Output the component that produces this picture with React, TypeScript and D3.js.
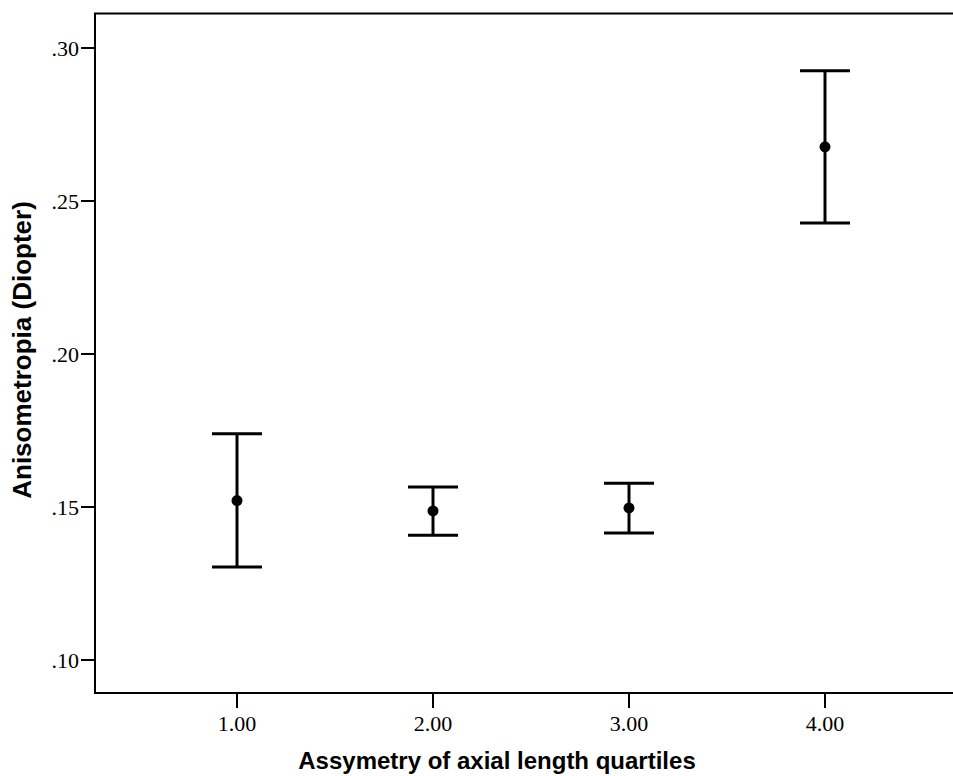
import React, { useEffect, useRef } from "react";
import * as d3 from "d3";

const categories = [1, 2, 3, 4];
const means = [0.1521, 0.1487, 0.1497, 0.2677];
const lowers = [0.1304, 0.1408, 0.1415, 0.2428];
const uppers = [0.1739, 0.1565, 0.1578, 0.2926];
const yTicks = [0.1, 0.15, 0.2, 0.25, 0.3];

const App = () => {
  const svgRef = useRef<SVGSVGElement | null>(null);

  useEffect(() => {
    if (!svgRef.current) return;
    const svg = d3.select(svgRef.current);
    svg.selectAll("*").remove();

    const width = 953;
    const left = 95;
    const top = 13.5;
    const bottom = 693;

    // y: .10 at 660, .30 at 48
    const yScale = d3.scaleLinear().domain([0.1, 0.3]).range([660, 48]);
    // x: 1.00 at 237, 4.00 at 825
    const xScale = d3.scaleLinear().domain([1, 4]).range([237, 825]);

    // frame
    svg.append("path")
      .attr("d", `M${width + 5},${top}H${left}V${bottom}H${width + 5}`)
      .attr("fill", "none")
      .attr("stroke", "#000")
      .attr("stroke-width", 2);

    // y axis ticks
    const yAxis = svg.append("g");
    yTicks.forEach(t => {
      const y = yScale(t);
      yAxis.append("line")
        .attr("x1", left - 14).attr("x2", left)
        .attr("y1", y).attr("y2", y)
        .attr("stroke", "#000").attr("stroke-width", 2);
      yAxis.append("text")
        .attr("x", left - 16)
        .attr("y", y)
        .attr("dy", "0.35em")
        .attr("text-anchor", "end")
        .attr("font-family", "'Liberation Serif', serif")
        .attr("font-size", 22)
        .attr("fill", "#000")
        .text(d3.format(".2f")(t).replace(/^0/, ""));
    });

    // x axis ticks
    const xAxis = svg.append("g");
    categories.forEach(c => {
      const x = xScale(c);
      xAxis.append("line")
        .attr("x1", x).attr("x2", x)
        .attr("y1", bottom).attr("y2", bottom + 15)
        .attr("stroke", "#000").attr("stroke-width", 2);
      xAxis.append("text")
        .attr("x", x)
        .attr("y", bottom + 38)
        .attr("text-anchor", "middle")
        .attr("font-family", "'Liberation Serif', serif")
        .attr("font-size", 22)
        .attr("fill", "#000")
        .text(d3.format(".2f")(c));
    });

    // error bars
    const bars = svg.append("g")
      .selectAll("g")
      .data(categories)
      .join("g");

    const capHalf = 25;
    bars.append("line")
      .attr("x1", d => xScale(d)).attr("x2", d => xScale(d))
      .attr("y1", (d, i) => yScale(uppers[i]))
      .attr("y2", (d, i) => yScale(lowers[i]))
      .attr("stroke", "#000").attr("stroke-width", 3);
    bars.append("line")
      .attr("x1", d => xScale(d) - capHalf).attr("x2", d => xScale(d) + capHalf)
      .attr("y1", (d, i) => yScale(uppers[i]))
      .attr("y2", (d, i) => yScale(uppers[i]))
      .attr("stroke", "#000").attr("stroke-width", 3);
    bars.append("line")
      .attr("x1", d => xScale(d) - capHalf).attr("x2", d => xScale(d) + capHalf)
      .attr("y1", (d, i) => yScale(lowers[i]))
      .attr("y2", (d, i) => yScale(lowers[i]))
      .attr("stroke", "#000").attr("stroke-width", 3);
    bars.append("circle")
      .attr("cx", d => xScale(d))
      .attr("cy", (d, i) => yScale(means[i]))
      .attr("r", 5.5)
      .attr("fill", "#000");

    // axis titles
    svg.append("text")
      .attr("transform", `translate(31,350) rotate(-90)`)
      .attr("text-anchor", "middle")
      .attr("font-family", "'Liberation Sans', Arial, sans-serif")
      .attr("font-weight", "bold")
      .attr("font-size", 26)
      .attr("fill", "#000")
      .text("Anisometropia (Diopter)");

    svg.append("text")
      .attr("x", 497)
      .attr("y", 769)
      .attr("text-anchor", "middle")
      .attr("font-family", "'Liberation Sans', Arial, sans-serif")
      .attr("font-weight", "bold")
      .attr("font-size", 24)
      .attr("fill", "#000")
      .text("Assymetry of axial length quartiles");
  }, []);

  return (
    <svg
      ref={svgRef}
      width={953}
      height={776}
      style={{ position: "absolute", left: 0, top: 0, background: "#fff" }}
    />
  );
};

export default App;
